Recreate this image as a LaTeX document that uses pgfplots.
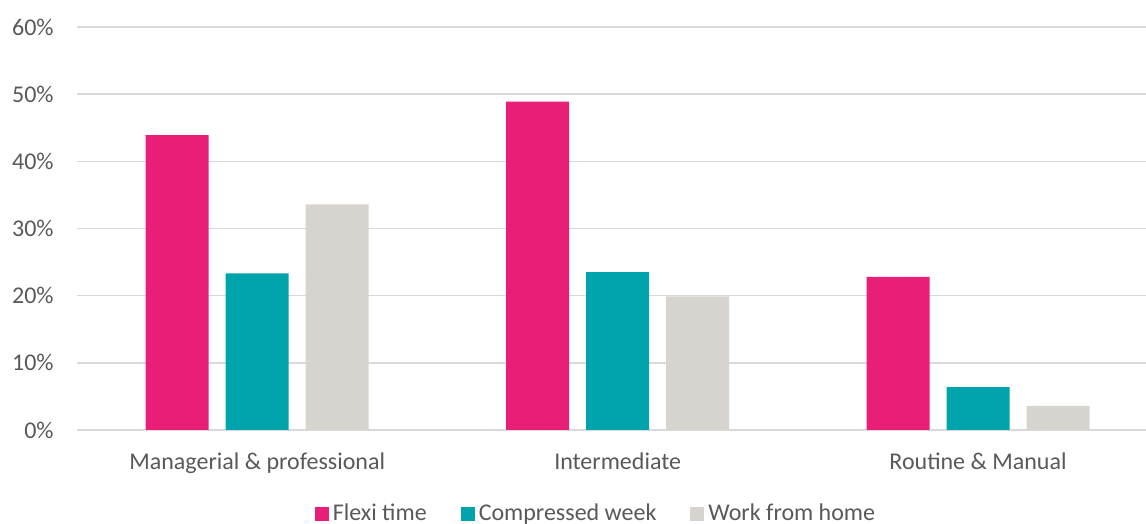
\documentclass[border=0pt]{standalone}
\usepackage{pgfplots}
\pgfplotsset{compat=1.18}
\usepackage{fontspec}
\setmainfont{Carlito}
\definecolor{cpink}{HTML}{E91E76}
\definecolor{cteal}{HTML}{00A4AC}
\definecolor{cgray}{HTML}{D7D3CE}
\definecolor{gridgray}{HTML}{D9D9D9}
\definecolor{textgray}{HTML}{595959}
\begin{document}
\begin{tikzpicture}
\useasboundingbox (0,0) rectangle (573pt,262pt);
\begin{axis}[
  at={(38.5pt,47pt)}, anchor=south west,
  scale only axis, width=534.5pt, height=201.5pt,
  xmin=-0.5, xmax=2.466, ymin=0, ymax=60,
  ytick={0,10,...,60},
  xtick={0,1,2},
  xticklabels={Managerial \& professional, Intermediate, Routine \& Manual},
  yticklabel={\pgfmathprintnumber{\tick}\%},
  /pgf/number format/assume math mode=true,
  ymajorgrids, grid style={color=gridgray, line width=0.75pt},
  axis line style={draw=none},
  major tick length=0pt,
  tick label style={font=\fontsize{12}{14}\selectfont, text=textgray},
  yticklabel style={inner sep=0pt, xshift=-11.5pt},
  xticklabel style={inner sep=0pt, yshift=-11pt},
  ybar=8.5pt, bar width=31.5pt,
  legend style={at={(0.4864,-0.2084)}, anchor=center, draw=none,
    font=\fontsize{12}{14}\selectfont, text=textgray,
    /tikz/every even column/.append style={column sep=15pt}},
  legend columns=3,
  legend image code/.code={\fill[#1] (-2pt,-3.5pt) rectangle (5pt,3.5pt);},
]
\addplot[fill=cpink, draw=none] coordinates {(0,43.9) (1,48.9) (2,22.8)};
\addplot[fill=cteal, draw=none] coordinates {(0,23.3) (1,23.5) (2,6.4)};
\addplot[fill=cgray, draw=none] coordinates {(0,33.6) (1,19.9) (2,3.6)};
\legend{Flexi time, Compressed week, Work from home}
\end{axis}
\end{tikzpicture}
\end{document}
